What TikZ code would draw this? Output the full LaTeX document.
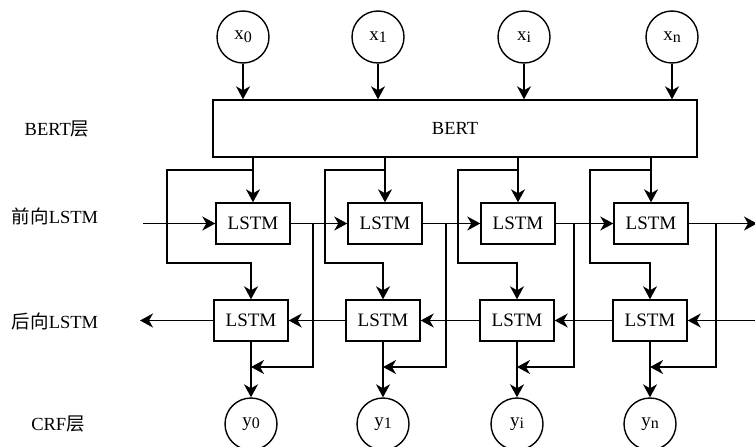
\documentclass[tikz,border=0pt]{standalone}
\usepackage{fontspec}
\setmainfont{Liberation Serif}
\newfontfamily\cjk{Noto Sans CJK SC}
\usetikzlibrary{arrows.meta}

% index set a little below the letter, only slightly smaller
\newcommand{\idx}[1]{\raisebox{-0.3ex}{\fontsize{16}{16}\selectfont #1}}

\begin{document}
\begin{tikzpicture}[x=1pt, y=-1pt, line width=1.4pt,
    every node/.style={font=\fontsize{18.5}{22}\selectfont},
    cell/.style={draw, minimum width=74pt, minimum height=41pt, inner sep=0pt, font=\fontsize{19}{22}\selectfont},
    token/.style={draw, circle, minimum size=52pt, inner sep=0pt, font=\fontsize{19}{22}\selectfont},
    flow/.style={-{Stealth[length=13pt, width=14pt, inset=4pt]}}]
    \useasboundingbox (0,0) rectangle (755,447);

    % layer names
    \node (lbert) at (57,129) {BERT{\cjk 层}};
    \node (lfwd) at (55,216) {{\cjk 前向}LSTM};
    \node (lbwd) at (55,321) {{\cjk 后向}LSTM};
    \node (lcrf) at (58,424) {CRF{\cjk 层}};

    % inputs and BERT
    \node[token] (x0) at (243,37) {x\idx{0}};
    \node[token] (x1) at (378,37) {x\idx{1}};
    \node[token] (xi) at (524,37) {x\idx{i}};
    \node[token] (xn) at (672,37) {x\idx{n}};
    \node[draw, minimum width=484pt, minimum height=57pt, inner sep=0pt] (bert) at (455,128.5) {BERT};

    % forward and backward cells
    \node[cell] (f0) at (253,223.5) {LSTM};
    \node[cell] (f1) at (385,223.5) {LSTM};
    \node[cell] (f2) at (518,223.5) {LSTM};
    \node[cell] (f3) at (651,223.5) {LSTM};
    \node[cell] (b0) at (251,320.5) {LSTM};
    \node[cell] (b1) at (383,320.5) {LSTM};
    \node[cell] (b2) at (517,320.5) {LSTM};
    \node[cell] (b3) at (650,320.5) {LSTM};

    % outputs
    \node[token] (y0) at (251,424) {y\idx{0}};
    \node[token] (y1) at (383,424) {y\idx{1}};
    \node[token] (yi) at (517,424) {y\idx{i}};
    \node[token] (yn) at (650,424) {y\idx{n}};

    \coordinate (fin) at (143,223.5);
    \coordinate (fout) at (757,223.5);
    \coordinate (bin) at (757,320.5);
    \coordinate (bout) at (140,320.5);

    \draw[flow] (x0) -- (x0 |- bert.north);
    \draw[flow] (x1) -- (x1 |- bert.north);
    \draw[flow] (xi) -- (xi |- bert.north);
    \draw[flow] (xn) -- (xn |- bert.north);

    % BERT feeds both directions
    \draw[flow] (bert.south -| f0) -- (f0);
    \draw[flow] (bert.south -| f1) -- (f1);
    \draw[flow] (bert.south -| f2) -- (f2);
    \draw[flow] (bert.south -| f3) -- (f3);
    \draw[flow] (f0 |- 0,170) -- (167,170) -- (167,263) -| (b0);
    \draw[flow] (f1 |- 0,170) -- (325,170) -- (325,263) -| (b1);
    \draw[flow] (f2 |- 0,170) -- (458,170) -- (458,263) -| (b2);
    \draw[flow] (f3 |- 0,170) -- (590,170) -- (590,263) -| (b3);

    % forward chain
    \draw[flow] (fin) -- (f0);
    \draw[flow] (f0) -- (f1);
    \draw[flow] (f1) -- (f2);
    \draw[flow] (f2) -- (f3);
    \draw[flow] (f3) -- (fout);

    % backward chain
    \draw[flow] (bin) -- (b3);
    \draw[flow] (b3) -- (b2);
    \draw[flow] (b2) -- (b1);
    \draw[flow] (b1) -- (b0);
    \draw[flow] (b0) -- (bout);

    % to CRF
    \draw[flow] (b0) -- (y0);
    \draw[flow] (b1) -- (y1);
    \draw[flow] (b2) -- (yi);
    \draw[flow] (b3) -- (yn);
    \draw[flow] (313,223.5) |- (y0 |- 0,367);
    \draw[flow] (446,223.5) |- (y1 |- 0,367);
    \draw[flow] (574,223.5) |- (yi |- 0,367);
    \draw[flow] (716,223.5) |- (yn |- 0,367);
\end{tikzpicture}
\end{document}
